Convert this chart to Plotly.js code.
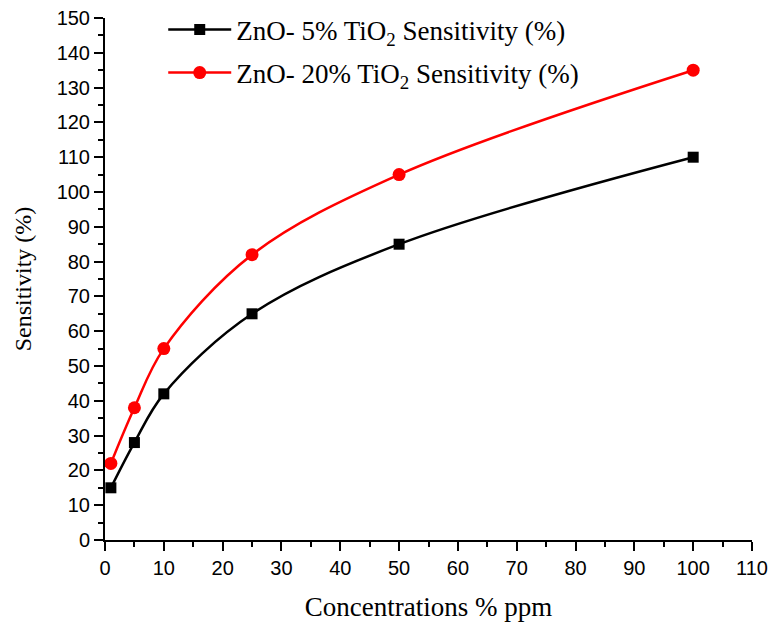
<!DOCTYPE html>
<html>
<head>
<meta charset="utf-8">
<script src="https://cdn.plot.ly/plotly-3.0.1.min.js"></script>
<style>html,body{margin:0;padding:0;background:#fff}#chart{width:774px;height:627px}</style>
</head>
<body>
<div id="chart"></div>
<script>
const concentrations = [1, 5, 10, 25, 50, 100];
const sensitivity5 = [15, 28, 42, 65, 85, 110];
const sensitivity20 = [22, 38, 55, 82, 105, 135];
const name5 = 'ZnO- 5% TiO<sub>2</sub> Sensitivity (%)';
const name20 = 'ZnO- 20% TiO<sub>2</sub> Sensitivity (%)';

const traces = [
  {x: concentrations, y: sensitivity5, name: name5, legendgroup: 'a', type: 'scatter', mode: 'lines+markers',
   line: {color: '#000000', width: 2.5, shape: 'spline', smoothing: 1},
   marker: {symbol: 'square', size: 11, color: '#000000'}},
  {x: concentrations, y: sensitivity20, name: name20, legendgroup: 'b', type: 'scatter', mode: 'lines+markers',
   line: {color: '#ff0000', width: 2.5, shape: 'spline', smoothing: 1},
   marker: {symbol: 'circle', size: 13, color: '#ff0000'}}
];

const serif = 'Liberation Serif, Times New Roman, serif';
const axisCommon = {
  showgrid: false, zeroline: false, showline: true, linecolor: '#000', linewidth: 2,
  ticks: 'outside', ticklen: 9, tickwidth: 2, tickcolor: '#000',
  tickfont: {family: 'Liberation Sans, Arial, sans-serif', size: 20, color: '#000'},
  minor: {ticks: 'outside', ticklen: 5, tickwidth: 2, tickcolor: '#000', dtick: 5}
};

const layout = {
  width: 774, height: 627,
  margin: {l: 105, r: 22, t: 18, b: 87, autoexpand: false},
  paper_bgcolor: '#fff', plot_bgcolor: '#fff',
  showlegend: true,
  legend: {x: 0.09, y: 1.024, xanchor: 'left', yanchor: 'top', bgcolor: 'rgba(0,0,0,0)',
    font: {family: serif, size: 27, color: '#000'},
    traceorder: 'grouped', tracegroupgap: 5, itemwidth: 63},
  xaxis: Object.assign({}, axisCommon, {
    range: [0, 110], dtick: 10, tick0: 0,
    title: {text: 'Concentrations % ppm', standoff: 19,
      font: {family: serif, size: 27, color: '#000'}}
  }),
  yaxis: Object.assign({}, axisCommon, {
    range: [0, 150], dtick: 10, tick0: 0,
    title: {text: 'Sensitivity (%)', standoff: 18,
      font: {family: serif, size: 24, color: '#000'}}
  })
};

Plotly.newPlot('chart', traces, layout, {displayModeBar: false, staticPlot: true});
</script>
</body>
</html>
